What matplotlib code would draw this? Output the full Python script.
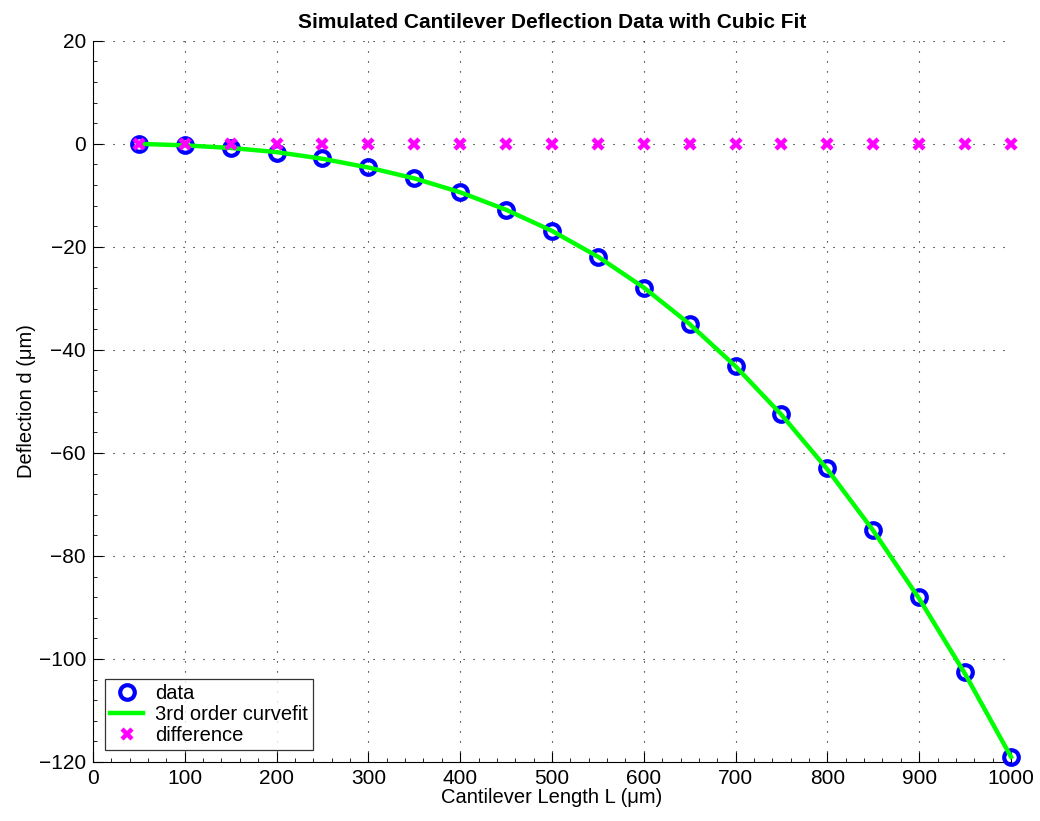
import numpy as np
import matplotlib.pyplot as plt
from matplotlib.ticker import MultipleLocator

plt.rcParams['font.family'] = ['Liberation Sans', 'DejaVu Sans']

# cantilever length (um) and simulated tip deflection (um)
length_um = [50, 100, 150, 200, 250, 300, 350, 400, 450, 500,
             550, 600, 650, 700, 750, 800, 850, 900, 950, 1000]
deflection_um = [0.0, -0.3, -0.8, -1.7, -2.8, -4.5, -6.6, -9.4, -12.8, -17.0,
                 -22.0, -28.0, -35.0, -43.2, -52.5, -63.0, -75.0, -88.0, -102.6, -119.0]
# values of the 3rd order fit at the same lengths
fit_um = [0.0, -0.3, -0.8, -1.6, -2.9, -4.6, -6.7, -9.4, -12.8, -16.9,
          -21.9, -27.9, -35.0, -43.2, -52.6, -63.2, -75.1, -88.3, -102.9, -119.0]
# data minus fit
difference_um = [0.0] * len(length_um)

fig = plt.figure(figsize=(10.4, 8.21), dpi=100)
ax = fig.add_axes([0.0894, 0.0719, 0.8827, 0.8784])

ax.plot(length_um, deflection_um, 'o', color='blue', markersize=10.5,
        markerfacecolor='none', markeredgewidth=3, label='data', zorder=3,
        clip_on=False)
ax.plot(length_um, fit_um, '-', color='#00ff00', linewidth=3.2,
        label='3rd order curvefit', zorder=4, clip_on=False)
ax.plot(length_um, difference_um, 'x', color='magenta', markersize=7,
        markeredgewidth=3.2, label='difference', zorder=5, clip_on=False)

ax.set_xlim(0, 1000)
ax.set_ylim(-120, 20)
ax.xaxis.set_major_locator(MultipleLocator(100))
ax.xaxis.set_minor_locator(MultipleLocator(20))
ax.yaxis.set_major_locator(MultipleLocator(20))
ax.yaxis.set_minor_locator(MultipleLocator(4))

for side in ['top', 'right']:
    ax.spines[side].set_visible(False)
for side in ['left', 'bottom']:
    ax.spines[side].set_linewidth(0.8)

ax.tick_params(which='both', direction='in', labelsize=15, pad=5)
ax.tick_params(which='major', length=7, width=0.8)
ax.tick_params(which='minor', length=3, width=0.6)
ax.yaxis.set_major_formatter(plt.FuncFormatter(lambda v, p: f'{v:g}'.replace('-', '\u2212')))

ax.grid(True, which='major', color='black', linestyle=(0, (1, 8)), linewidth=0.8)
ax.set_axisbelow(True)

ax.set_title('Simulated Cantilever Deflection Data with Cubic Fit',
             fontsize=15, fontweight='bold', pad=9)
ax.set_xlabel('Cantilever Length L (\u03bcm)', fontsize=14.5, labelpad=0)
ax.set_ylabel('Deflection d (\u03bcm)', fontsize=14.5, labelpad=2)

leg = ax.legend(loc='lower left', fontsize=14.5, frameon=True, fancybox=False,
                edgecolor='black', borderpad=0.25, handlelength=1.65,
                handletextpad=0.6, labelspacing=0.1, borderaxespad=0.6)
leg.get_frame().set_linewidth(0.9)

fig.savefig('out.png', dpi=100)
